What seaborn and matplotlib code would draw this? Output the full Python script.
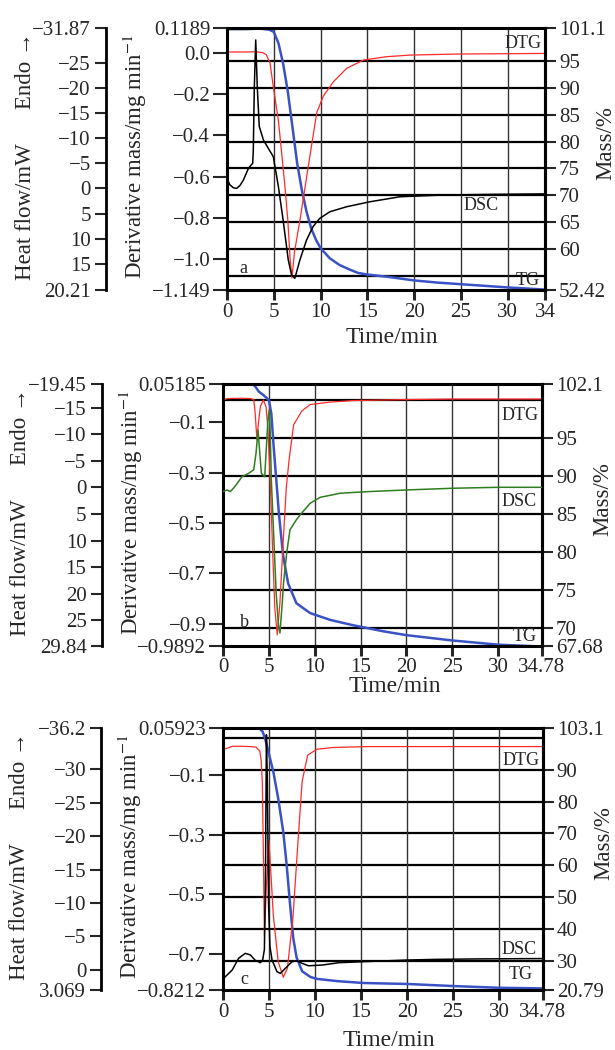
import matplotlib
matplotlib.use("Agg")
import seaborn as sns
from matplotlib import pyplot as plt

# ---------------- panel a ----------------
a_tg_time = [0, 2, 3.5, 4.5, 5.0, 5.5, 6.0, 6.5, 7.0, 7.5, 8.0, 8.5, 9.0, 9.5, 10.0, 11.0,
             12.0, 13.0, 14.0, 15.0, 17.5, 20.0, 22.5, 25.0, 27.5, 30.0, 32.0, 34.0]
a_tg_mass = [100.9, 100.9, 101.0, 100.8, 100.4, 98.3, 94.5, 89.3, 82.7, 76.0, 71.0, 67.0, 63.9,
             61.8, 60.2, 58.3, 57.1, 56.3, 55.6, 55.3, 54.8, 54.2, 53.8, 53.5, 53.2, 52.9, 52.7, 52.5]
a_dtg_time = [0.0, 1.0, 2.0, 3.0, 3.8, 4.2, 4.6, 4.95, 5.5, 5.85, 6.2, 6.5, 6.75, 6.95, 7.2,
              7.8, 8.35, 8.9, 9.6, 10.3, 11.4, 12.8, 14.6, 17.0, 19.6, 24.6, 34.0]
a_dtg_val = [0.003, 0.003, 0.003, 0.004, 0.0, -0.01, -0.05, -0.165, -0.33, -0.49, -0.65, -0.81,
             -1.0, -1.09, -0.97, -0.81, -0.65, -0.49, -0.29, -0.21, -0.14, -0.076, -0.036, -0.02,
             -0.012, -0.007, -0.004]
a_dsc_time = [0.0, 0.3, 0.7, 1.05, 1.4, 1.75, 2.3, 2.75, 2.81, 2.92, 3.07, 3.24, 3.45, 3.9, 4.4,
              4.95, 5.5, 6.0, 6.55, 6.9, 7.25, 7.8, 8.5, 9.2, 9.9, 11.0, 12.8, 15.3, 18.5, 23.0,
              28.0, 34.0]
a_dsc_val = [-2.0, -0.7, -0.1, 0.0, -0.6, -1.65, -4.0, -5.0, -7.5, -20.0, -29.5, -20.0, -12.3,
             -9.6, -8.0, -6.3, -0.3, 6.3, 14.2, 17.2, 17.9, 14.2, 10.3, 7.6, 6.0, 4.65, 3.65, 2.66,
             1.67, 1.33, 1.2, 1.1]
a_x_ticks = [0, 5, 10, 15, 20, 25, 30, 34]
a_x_labels = ["0", "5", "10", "15", "20", "25", "30", "34"]
a_dtg_ticks = [0.1189, 0.0, -0.2, -0.4, -0.6, -0.8, -1.0, -1.149]
a_dtg_labels = ["0.1189", "0.0", "-0.2", "-0.4", "-0.6", "-0.8", "-1.0", "-1.149"]
a_mass_ticks = [101.1, 95, 90, 85, 80, 75, 70, 65, 60, 52.42]
a_mass_labels = ["101.1", "95", "90", "85", "80", "75", "70", "65", "60", "52.42"]
a_mass_grid = [95, 90, 85, 80, 75, 70, 65, 60, 55]
a_hf_ticks = [-31.87, -25, -20, -15, -10, -5, 0, 5, 10, 15, 20.21]
a_hf_labels = ["-31.87", "-25", "-20", "-15", "-10", "-5", "0", "5", "10", "15", "20.21"]

# ---------------- panel b ----------------
b_tg_time = [0, 3.3, 3.5, 3.9, 4.4, 5.0, 5.27, 5.52, 5.81, 6.1, 6.55, 7.1, 8.0, 9.5, 11.7, 14.2,
             17.5, 20.0, 25.0, 30.0, 34.78]
b_tg_mass = [102.0, 102.0, 101.8, 101.1, 100.65, 100.0, 98.2, 93.9, 89.5, 85.0, 79.6, 75.9, 73.3,
             72.0, 71.1, 70.4, 69.6, 69.1, 68.4, 67.85, 67.6]
b_dtg_time = [0.0, 0.5, 2.0, 3.0, 3.35, 3.5, 3.7, 3.85, 4.07, 4.4, 4.7, 4.9, 5.15, 5.4, 5.65,
              5.92, 6.2, 6.6, 6.9, 7.2, 7.7, 8.6, 9.5, 11.7, 14.2, 20.0, 25.0, 34.78]
b_dtg_val = [-0.012, -0.006, -0.005, -0.006, -0.01, -0.06, -0.17, -0.11, -0.038, -0.012, -0.04,
             -0.13, -0.33, -0.6, -0.84, -0.945, -0.82, -0.55, -0.36, -0.25, -0.11, -0.055, -0.03,
             -0.02, -0.014, -0.01, -0.008, -0.008]
b_dsc_time = [0.0, 0.44, 0.8, 1.35, 2.07, 2.8, 3.35, 3.6, 3.82, 3.96, 4.18, 4.55, 4.69, 4.9, 5.05,
              5.15, 5.27, 5.55, 5.8, 6.05, 6.21, 6.45, 6.6, 6.94, 7.3, 8.0, 8.4, 9.5, 10.6, 12.8,
              15.7, 20.0, 25.0, 30.0, 34.78]
b_dsc_val = [0.8, 0.5, 0.8, -0.26, -2.0, -2.65, -3.3, -6.4, -10.8, -7.6, -2.65, -2.0, -6.4, -12.7,
             -14.6, -10.0, -1.4, 10.0, 20.0, 26.0, 27.4, 22.0, 18.0, 12.4, 8.0, 6.1, 5.2, 3.0,
             1.87, 1.1, 0.81, 0.49, 0.17, -0.01, -0.01]
b_x_ticks = [0, 5, 10, 15, 20, 25, 30, 34.78]
b_x_labels = ["0", "5", "10", "15", "20", "25", "30", "34.78"]
b_dtg_ticks = [0.05185, -0.1, -0.3, -0.5, -0.7, -0.9, -0.9892]
b_dtg_labels = ["0.05185", "-0.1", "-0.3", "-0.5", "-0.7", "-0.9", "-0.9892"]
b_mass_ticks = [102.1, 95, 90, 85, 80, 75, 70, 67.68]
b_mass_labels = ["102.1", "95", "90", "85", "80", "75", "70", "67.68"]
b_mass_grid = [100, 95, 90, 85, 80, 75, 70]
b_hf_ticks = [-19.45, -15, -10, -5, 0, 5, 10, 15, 20, 25, 29.84]
b_hf_labels = ["-19.45", "-15", "-10", "-5", "0", "5", "10", "15", "20", "25", "29.84"]

# ---------------- panel c ----------------
c_tg_time = [0, 4.0, 4.3, 4.57, 4.93, 5.47, 6.0, 6.55, 6.92, 7.28, 7.64, 8.0, 8.6, 9.5, 10.2,
             12.4, 15.3, 20.0, 25.0, 30.0, 34.78]
c_tg_mass = [102.9, 102.9, 102.0, 99.9, 95.7, 89.4, 81.0, 70.5, 60.1, 48.0, 37.0, 31.0, 26.7,
             24.9, 24.3, 23.6, 23.0, 22.7, 22.05, 21.5, 21.3]
c_dtg_time = [0.0, 0.4, 1.0, 2.0, 3.0, 3.6, 4.0, 4.15, 4.27, 4.38, 4.5, 4.75, 5.0, 5.47, 6.0,
              6.55, 7.0, 7.6, 8.1, 8.6, 9.2, 10.2, 12.0, 15.6, 25.0, 34.78]
c_dtg_val = [-0.012, -0.009, -0.002, -0.002, -0.003, -0.005, -0.018, -0.05, -0.12, -0.345, -0.64,
             -0.45, -0.32, -0.57, -0.726, -0.778, -0.748, -0.58, -0.345, -0.12, -0.032, -0.012,
             -0.006, -0.003, -0.003, -0.003]
c_dsc_time = [0.0, 0.25, 1.0, 1.7, 2.42, 2.97, 3.5, 4.06, 4.31, 4.5, 4.62, 4.72, 4.82, 4.95, 5.1,
              5.33, 5.87, 6.23, 6.77, 7.5, 8.04, 8.6, 9.3, 10.8, 12.6, 15.25, 20.0, 23.2, 28.0,
              34.78]
c_dsc_val = [1.4, 1.07, 0.07, -1.7, -2.43, -2.2, -1.4, -1.03, -1.43, -3.0, -15.0, -35.2, -28.0,
             -10.0, -3.5, -1.43, 0.32, 0.57, -0.18, -1.18, -1.33, -0.93, -0.57, -0.68, -1.03,
             -1.18, -1.43, -1.53, -1.6, -1.65]
c_x_ticks = [0, 5, 10, 15, 20, 25, 30, 34.78]
c_x_labels = ["0", "5", "10", "15", "20", "25", "30", "34.78"]
c_dtg_ticks = [0.05923, -0.1, -0.3, -0.5, -0.7, -0.8212]
c_dtg_labels = ["0.05923", "-0.1", "-0.3", "-0.5", "-0.7", "-0.8212"]
c_mass_ticks = [103.1, 90, 80, 70, 60, 50, 40, 30, 20.79]
c_mass_labels = ["103.1", "90", "80", "70", "60", "50", "40", "30", "20.79"]
c_mass_grid = [100, 90, 80, 70, 60, 50, 40, 30]
c_hf_ticks = [-36.2, -30, -25, -20, -15, -10, -5, 0, 3.069]
c_hf_labels = ["-36.2", "-30", "-25", "-20", "-15", "-10", "-5", "0", "3.069"]

time_grid = [5, 10, 15, 20, 25, 30]

sns.set_theme(style="ticks")
plt.rcParams["font.family"] = ["Liberation Serif", "DejaVu Serif"]
plt.rcParams["mathtext.fontset"] = "stix"

TG_BLUE = "#3a52c4"
DTG_RED = "#ff2a2a"


def minus(labels):
    return [s.replace("-", "\u2212") for s in labels]


def draw_panel(fig, rect, tg, dtg, dsc, dsc_color, x_ticks, x_labels,
               dtg_ticks, dtg_labels, mass_ticks, mass_labels, mass_grid,
               hf_ticks, hf_labels, xlabel_y, xlabel_x):
    ax = fig.add_axes(rect)
    ax_m = ax.twinx()
    ax_h = ax.twinx()
    # mass axis carries the grid, keep it underneath the other curves
    ax_m.set_zorder(ax.get_zorder() - 1)
    ax.patch.set_visible(False)
    ax_h.set_zorder(ax.get_zorder() + 1)

    for v in mass_grid:
        ax_m.axhline(v, color="black", lw=1.6, zorder=0)
    for t in time_grid:
        ax_m.axvline(t, color="#333333", lw=1.0, zorder=0)

    sns.lineplot(x=tg[0], y=tg[1], ax=ax_m, color=TG_BLUE, linewidth=1.8,
                 estimator=None, sort=False)
    sns.lineplot(x=dtg[0], y=dtg[1], ax=ax, color=DTG_RED, linewidth=0.9,
                 estimator=None, sort=False)
    sns.lineplot(x=dsc[0], y=dsc[1], ax=ax_h, color=dsc_color, linewidth=1.1,
                 estimator=None, sort=False)

    ax.set_xlim(0, x_ticks[-1])
    ax.set_ylim(dtg_ticks[-1], dtg_ticks[0])
    ax_m.set_ylim(mass_ticks[-1], mass_ticks[0])
    ax_h.set_ylim(hf_ticks[-1], hf_ticks[0])  # endo up

    ax.set_xticks(x_ticks, x_labels)
    ax.set_yticks(dtg_ticks, minus(dtg_labels))
    ax_m.set_yticks(mass_ticks, mass_labels)
    ax_h.set_yticks(hf_ticks, minus(hf_labels))

    ax.tick_params(axis="y", direction="out", length=10, width=1.5, pad=2,
                   labelsize=15, left=True)
    ax.tick_params(axis="x", direction="out", length=7, width=2.2, pad=2,
                   labelsize=15, bottom=True)
    ax_m.tick_params(axis="y", direction="out", length=8, width=1.5, pad=2,
                     labelsize=15, right=True)

    ax_h.spines["left"].set_position(("axes", -0.38))
    ax_h.spines["left"].set_visible(True)
    for s in ["right", "top", "bottom"]:
        ax_h.spines[s].set_visible(False)
    ax_h.yaxis.set_ticks_position("left")
    ax_h.yaxis.set_label_position("left")
    ax_h.tick_params(axis="y", direction="out", length=8, width=1.5, pad=3,
                     labelsize=15, left=True, right=False)
    ax_h.spines["left"].set_linewidth(2.0)
    ax_h.spines["left"].set_color("black")

    for s in ax.spines.values():
        s.set_linewidth(2.2)
        s.set_color("black")
    ax_m.spines["right"].set_linewidth(2.2)
    ax_m.spines["right"].set_color("black")

    ax.set_xlabel("Time/min", fontsize=17, va="center")
    ax.xaxis.set_label_coords(xlabel_x, xlabel_y)
    ax.set_ylabel(r"Derivative mass/mg min$^{-1}$", fontsize=16.5, va="center")
    ax.yaxis.set_label_coords(-0.29, 0.51)
    ax_m.set_ylabel("Mass/%", fontsize=16.5, va="center", rotation=90)
    ax_m.yaxis.set_label_coords(1.19, 0.56)
    ax_h.set_ylabel("Heat flow/mW      Endo \u2192", fontsize=16.5, va="center")
    ax_h.yaxis.set_label_coords(-0.635, 0.51)
    return ax


def tag(ax, x, y, s, ha="right"):
    ax.text(x, y, s, transform=ax.transAxes, ha=ha, va="center", fontsize=13, zorder=10)


fig = plt.figure(figsize=(6.15, 10.5), dpi=100)
fig.patch.set_facecolor("white")

ax_a = draw_panel(fig, [0.3691, 0.7238, 0.5171, 0.2495],
                  (a_tg_time, a_tg_mass), (a_dtg_time, a_dtg_val), (a_dsc_time, a_dsc_val),
                  "black", a_x_ticks, a_x_labels, a_dtg_ticks, a_dtg_labels,
                  a_mass_ticks, a_mass_labels, a_mass_grid, a_hf_ticks, a_hf_labels,
                  -0.183, 0.519)
ax_b = draw_panel(fig, [0.3626, 0.3848, 0.5187, 0.2495],
                  (b_tg_time, b_tg_mass), (b_dtg_time, b_dtg_val), (b_dsc_time, b_dsc_val),
                  "#2e7d1e", b_x_ticks, b_x_labels, b_dtg_ticks, b_dtg_labels,
                  b_mass_ticks, b_mass_labels, b_mass_grid, b_hf_ticks, b_hf_labels,
                  -0.153, 0.539)
ax_c = draw_panel(fig, [0.3626, 0.0571, 0.5203, 0.2495],
                  (c_tg_time, c_tg_mass), (c_dtg_time, c_dtg_val), (c_dsc_time, c_dsc_val),
                  "black", c_x_ticks, c_x_labels, c_dtg_ticks, c_dtg_labels,
                  c_mass_ticks, c_mass_labels, c_mass_grid, c_hf_ticks, c_hf_labels,
                  -0.191, 0.519)

tag(ax_a, 0.99, 0.94, "DTG")
tag(ax_a, 0.80, 0.324, "DSC", ha="center")
tag(ax_a, 0.984, 0.038, "TG")
tag(ax_a, 0.05, 0.084, "a", ha="center")

tag(ax_b, 0.99, 0.878, "DTG")
tag(ax_b, 0.984, 0.553, "DSC")
tag(ax_b, 0.984, 0.038, "TG")
tag(ax_b, 0.066, 0.088, "b", ha="center")

tag(ax_c, 0.988, 0.878, "DTG")
tag(ax_c, 0.981, 0.156, "DSC")
tag(ax_c, 0.969, 0.061, "TG")
tag(ax_c, 0.066, 0.042, "c", ha="center")

fig.savefig("out.png", dpi=100, facecolor="white")
